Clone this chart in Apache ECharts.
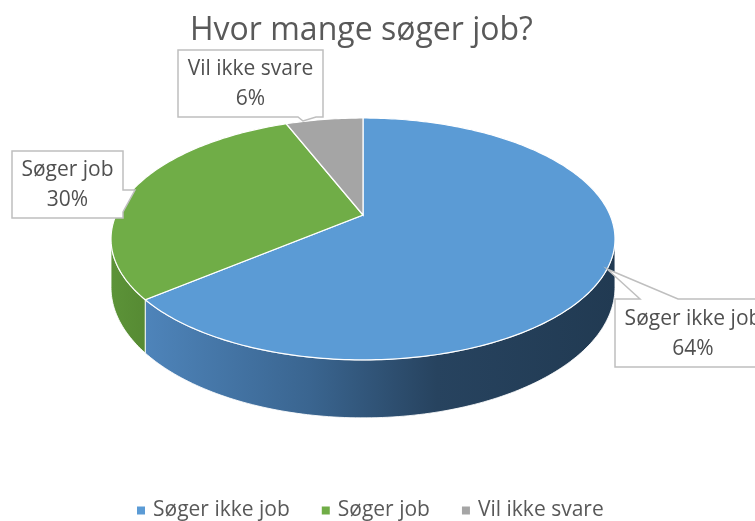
<!DOCTYPE html>
<html>
<head>
<meta charset="utf-8">
<script src="https://cdn.jsdelivr.net/npm/echarts@6/dist/echarts.min.js"></script>
<style>
  * { margin: 0; padding: 0; }
  #chart { width: 755px; height: 521px; background: #fff; }
</style>
</head>
<body>
<div id="chart"></div>
<script>
const categories = ["Søger ikke job", "Søger job", "Vil ikke svare"];
const values = [64, 30, 6];
const colors = ["#5b9bd5", "#70ad47", "#a5a5a5"];

// pie geometry (tilted disc with a bit of perspective)
const CX = 363, CY = 215;
const RX = 247, RY = 116.2;
const K = 0.198;        // perspective strength
const DEPTH = 46.5;     // thickness of the disc
const FONT = "'Open Sans', sans-serif";

// label boxes: rect + callout wedge
const boxes = [
  { x: 615, y: 299, w: 156, h: 68, side: "top", a: 640, b: 678, tip: [607, 269] },
  { x: 12, y: 151, w: 111, h: 67, side: "right", a: 190, b: 212, tip: [135, 190] },
  { x: 178, y: 50, w: 145, h: 67, side: "bottom", a: 298, b: 316, tip: [303, 121] }
];

const wallColors = [
  [
    { offset: 0, color: "#4e84ba" },
    { offset: 0.35, color: "#3a6590" },
    { offset: 0.62, color: "#27435f" },
    { offset: 1, color: "#213a52" }
  ],
  [
    { offset: 0, color: "#5c9338" },
    { offset: 1, color: "#568a33" }
  ],
  [
    { offset: 0, color: "#8a8a8a" },
    { offset: 1, color: "#7a7a7a" }
  ]
];

const total = values.reduce((s, v) => s + v, 0);

function proj(deg, down) {
  const t = deg * Math.PI / 180;
  const u = Math.sin(t), v = Math.cos(t);
  const s = 1 / (1 + K * v);
  return [CX + RX * u * s, CY - RY * v * s + (down ? DEPTH * s : 0)];
}

function arc(a0, a1, down) {
  const pts = [];
  const n = Math.max(2, Math.ceil(Math.abs(a1 - a0)));
  for (let j = 0; j <= n; j++) pts.push(proj(a0 + (a1 - a0) * j / n, down));
  return pts;
}

function callout(b) {
  const { x, y, w, h } = b;
  if (b.side === "top")
    return [[x, y], [b.a, y], b.tip, [b.b, y], [x + w, y], [x + w, y + h], [x, y + h]];
  if (b.side === "right")
    return [[x, y], [x + w, y], [x + w, b.a], b.tip, [x + w, b.b], [x + w, y + h], [x, y + h]];
  return [[x, y], [x + w, y], [x + w, y + h], [b.b, y + h], b.tip, [b.a, y + h], [x, y + h]];
}

// silhouette angles where the side wall becomes visible
const sideR = Math.acos(-K) * 180 / Math.PI;
const sideL = 360 - sideR;

function makeRender(i) {
  return function (params, api) {
    const start = values.slice(0, i).reduce((s, v) => s + v, 0) / total * 360;
    const end = start + values[i] / total * 360;
    const children = [];

    const w0 = Math.max(start, sideR), w1 = Math.min(end, sideL);
    if (w1 > w0) {
      const top = arc(w0, w1, false);
      const bottom = arc(w1, w0, true);
      children.push({
        type: "polygon",
        shape: { points: top.concat(bottom) },
        style: {
          fill: new echarts.graphic.LinearGradient(0, 0, 1, 0, wallColors[i]),
          stroke: "rgba(255,255,255,0.85)",
          lineWidth: 1
        }
      });
    }

    children.push({
      type: "polygon",
      shape: { points: [[CX, CY]].concat(arc(start, end, false)) },
      style: { fill: colors[i], stroke: "#fff", lineWidth: 1.2 }
    });

    const b = boxes[i];
    const pct = Math.round(values[i] / total * 100) + "%";
    children.push({
      type: "polygon",
      shape: { points: callout(b) },
      style: { fill: "#fff", stroke: "#bfbfbf", lineWidth: 1.5 },
      z2: 10
    });
    children.push({
      type: "text",
      x: b.x + b.w / 2,
      y: b.y + b.h / 2 + 1,
      style: {
        text: categories[i] + "\n" + pct,
        font: "21px " + FONT,
        lineHeight: 30,
        fill: "#505050",
        align: "center",
        verticalAlign: "middle"
      },
      z2: 11
    });

    return { type: "group", children: children };
  };
}

const chart = echarts.init(document.getElementById("chart"), null, { renderer: "canvas" });

const option = {
  animation: false,
  title: {
    text: "Hvor mange søger job?",
    left: 185,
    top: 10,
    textStyle: { fontFamily: FONT, fontSize: 32, fontWeight: "normal", color: "#595959" }
  },
  legend: {
    left: 132,
    top: 495,
    icon: "rect",
    itemWidth: 8,
    itemHeight: 8,
    itemGap: 32,
    textStyle: { fontFamily: FONT, fontSize: 21, color: "#595959", padding: [0, 0, 0, 3] },
    data: categories
  },
  series: categories.map((name, i) => ({
    name: name,
    type: "custom",
    coordinateSystem: "none",
    itemStyle: { color: colors[i] },
    renderItem: makeRender(i),
    data: [values[i]]
  }))
};

chart.setOption(option);
</script>
</body>
</html>
